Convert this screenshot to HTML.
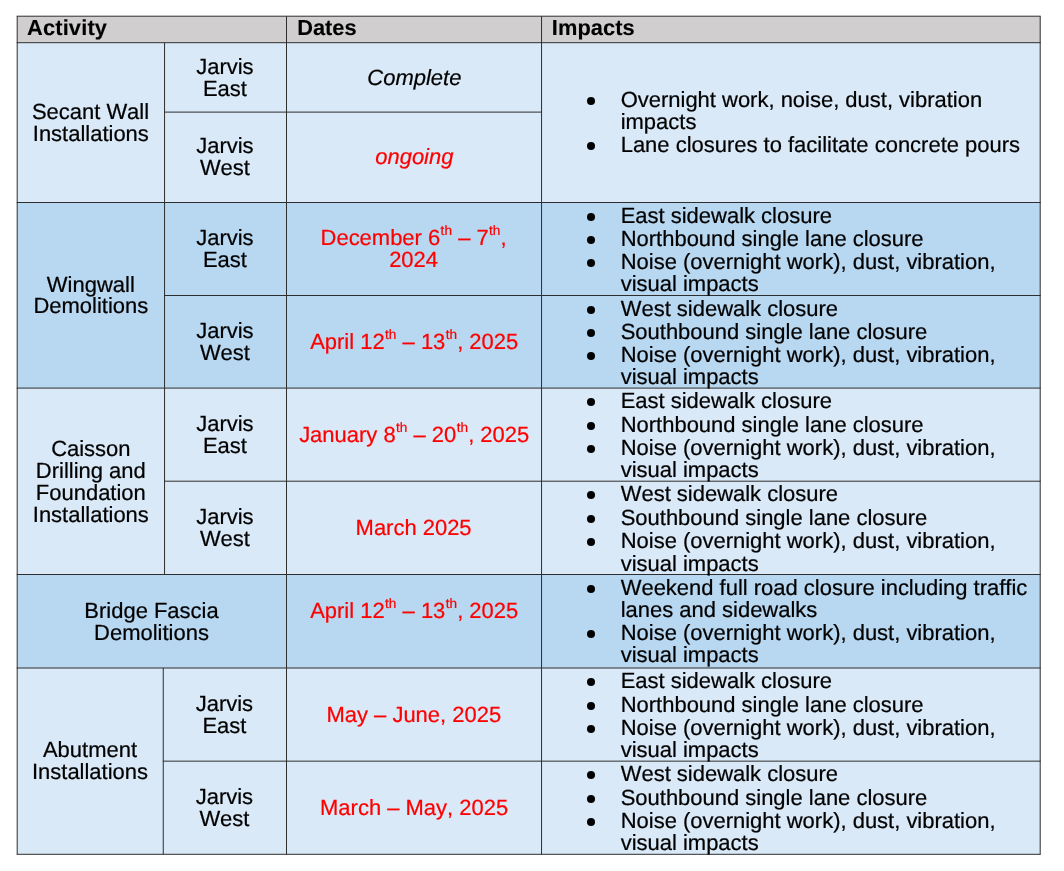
<!DOCTYPE html>
<html lang="en"><head><meta charset="utf-8"><style>
html,body{margin:0;padding:0;background:#fff}
body{width:1064px;height:871px;position:relative;overflow:hidden;font-family:"Liberation Sans",Arial,Helvetica,sans-serif;font-size:21.98px;color:#000;-webkit-text-stroke:0.22px currentColor;font-kerning:none;font-variant-ligatures:none;text-rendering:geometricPrecision}
svg.grid{position:absolute;left:0;top:0;display:block}
main{position:absolute;left:0;top:0;width:1064px;height:871px}
ul{list-style:none;margin:0;padding:0}
li{margin:0;padding:0}
.l{position:absolute;display:block;white-space:nowrap;line-height:25px;height:25px;margin:0;padding:0}
.c{text-align:center}
.b{font-weight:bold;font-size:21.8px;-webkit-text-stroke:0.12px currentColor}
.it{font-style:italic}
.ls{letter-spacing:0.17px}
.ls2{letter-spacing:0.08px}
.red{color:#ff0000}
sup{font-size:13.6px;line-height:0;vertical-align:baseline;position:relative;top:-10px;margin:0 0.1px 0 0.4px}
</style></head>
<body>
<svg class="grid" width="1064" height="871" viewBox="0 0 1064 871">
<rect x="17.20" y="16.20" width="1023.00" height="26.50" fill="#d0cece"/>
<rect x="17.20" y="42.70" width="1023.00" height="159.80" fill="#dae9f7"/>
<rect x="17.20" y="202.50" width="1023.00" height="185.60" fill="#b8d7f0"/>
<rect x="17.20" y="388.10" width="1023.00" height="186.40" fill="#dae9f7"/>
<rect x="17.20" y="574.50" width="1023.00" height="93.50" fill="#b8d7f0"/>
<rect x="17.20" y="668.00" width="1023.00" height="186.30" fill="#dae9f7"/>
<path d="M16.70 16.20H1040.70M16.70 42.70H1040.70M16.70 202.50H1040.70M16.70 388.10H1040.70M16.70 574.50H1040.70M16.70 668.00H1040.70M16.70 854.30H1040.70M164.05 112.10H542.05M164.05 295.50H1040.70M164.05 481.20H1040.70M162.75 761.15H1040.70M17.20 16.20V854.30M1040.20 16.20V854.30M286.50 16.20V854.30M541.55 16.20V854.30M164.55 42.70V574.50M163.25 668.00V854.30" stroke="#2e2e2e" stroke-width="1" fill="none"/>
<g fill="#000"><circle cx="591.00" cy="100.90" r="4.0"/><circle cx="591.00" cy="145.90" r="4.0"/><circle cx="591.00" cy="216.90" r="4.0"/><circle cx="591.00" cy="239.90" r="4.0"/><circle cx="591.00" cy="262.90" r="4.0"/><circle cx="591.00" cy="309.90" r="4.0"/><circle cx="591.00" cy="332.90" r="4.0"/><circle cx="591.00" cy="355.90" r="4.0"/><circle cx="591.00" cy="401.90" r="4.0"/><circle cx="591.00" cy="425.90" r="4.0"/><circle cx="591.00" cy="448.90" r="4.0"/><circle cx="591.00" cy="494.90" r="4.0"/><circle cx="591.00" cy="518.90" r="4.0"/><circle cx="591.00" cy="541.90" r="4.0"/><circle cx="591.00" cy="588.90" r="4.0"/><circle cx="591.00" cy="633.90" r="4.0"/><circle cx="591.00" cy="681.90" r="4.0"/><circle cx="591.00" cy="705.90" r="4.0"/><circle cx="591.00" cy="728.90" r="4.0"/><circle cx="591.00" cy="774.90" r="4.0"/><circle cx="591.00" cy="798.90" r="4.0"/><circle cx="591.00" cy="821.90" r="4.0"/></g>
</svg>
<main>
<header><div class="l b ls" style="left:27.00px;top:15px">Activity</div><div class="l b" style="left:297.20px;top:15px">Dates</div><div class="l b ls2" style="left:551.80px;top:15px">Impacts</div></header>
<section>
<div class="l c" style="left:-159.50px;width:500px;top:99px">Secant Wall</div><div class="l c" style="left:-159.20px;width:500px;top:121px">Installations</div>
<div class="l c" style="left:-25.10px;width:500px;top:54px">Jarvis</div><div class="l c" style="left:-25.10px;width:500px;top:76px">East</div>
<div class="l c" style="left:-25.10px;width:500px;top:133px">Jarvis</div><div class="l c" style="left:-25.10px;width:500px;top:155px">West</div>
<div class="l c it" style="left:164.35px;width:500px;top:65px">Complete</div>
<div class="l c it red" style="left:164.35px;width:500px;top:144px">ongoing</div>
<ul><li><span class="l" style="left:620.70px;top:87px">Overnight work, noise, dust, vibration</span> <span class="l" style="left:620.70px;top:109px">impacts</span> </li><li><span class="l" style="left:620.70px;top:132px">Lane closures to facilitate concrete pours</span> </li></ul>
</section>
<section>
<div class="l c" style="left:-159.20px;width:500px;top:272px">Wingwall</div><div class="l c" style="left:-159.20px;width:500px;top:293px">Demolitions</div>
<div class="l c" style="left:-25.10px;width:500px;top:225px">Jarvis</div><div class="l c" style="left:-25.10px;width:500px;top:247px">East</div>
<div class="l c" style="left:-25.10px;width:500px;top:318px">Jarvis</div><div class="l c" style="left:-25.10px;width:500px;top:340px">West</div>
<div class="l c red" style="left:163.60px;width:500px;top:225px">December 6<sup>th</sup> – 7<sup>th</sup>,</div><div class="l c red" style="left:163.60px;width:500px;top:247px">2024</div>
<div class="l c red" style="left:164.20px;width:500px;top:329px">April 12<sup>th</sup> – 13<sup>th</sup>, 2025</div>
<ul><li><span class="l" style="left:620.70px;top:203px">East sidewalk closure</span> </li><li><span class="l" style="left:620.70px;top:226px">Northbound single lane closure</span> </li><li><span class="l" style="left:620.70px;top:249px">Noise (overnight work), dust, vibration,</span> <span class="l" style="left:620.70px;top:271px">visual impacts</span> </li></ul>
<ul><li><span class="l" style="left:620.70px;top:296px">West sidewalk closure</span> </li><li><span class="l" style="left:620.70px;top:319px">Southbound single lane closure</span> </li><li><span class="l" style="left:620.70px;top:342px">Noise (overnight work), dust, vibration,</span> <span class="l" style="left:620.70px;top:364px">visual impacts</span> </li></ul>
</section>
<section>
<div class="l c" style="left:-159.20px;width:500px;top:436px">Caisson</div><div class="l c" style="left:-159.20px;width:500px;top:458px">Drilling and</div><div class="l c" style="left:-159.20px;width:500px;top:480px">Foundation</div><div class="l c" style="left:-159.20px;width:500px;top:502px">Installations</div>
<div class="l c" style="left:-25.10px;width:500px;top:411px">Jarvis</div><div class="l c" style="left:-25.10px;width:500px;top:433px">East</div>
<div class="l c" style="left:-25.10px;width:500px;top:504px">Jarvis</div><div class="l c" style="left:-25.10px;width:500px;top:526px">West</div>
<div class="l c red" style="left:164.20px;width:500px;top:422px">January 8<sup>th</sup> – 20<sup>th</sup>, 2025</div>
<div class="l c red" style="left:163.60px;width:500px;top:515px">March 2025</div>
<ul><li><span class="l" style="left:620.70px;top:388px">East sidewalk closure</span> </li><li><span class="l" style="left:620.70px;top:412px">Northbound single lane closure</span> </li><li><span class="l" style="left:620.70px;top:435px">Noise (overnight work), dust, vibration,</span> <span class="l" style="left:620.70px;top:457px">visual impacts</span> </li></ul>
<ul><li><span class="l" style="left:620.70px;top:481px">West sidewalk closure</span> </li><li><span class="l" style="left:620.70px;top:505px">Southbound single lane closure</span> </li><li><span class="l" style="left:620.70px;top:528px">Noise (overnight work), dust, vibration,</span> <span class="l" style="left:620.70px;top:551px">visual impacts</span> </li></ul>
</section>
<section>
<div class="l c" style="left:-98.50px;width:500px;top:598px">Bridge Fascia</div><div class="l c" style="left:-98.50px;width:500px;top:620px">Demolitions</div>
<div class="l c red" style="left:164.20px;width:500px;top:598px">April 12<sup>th</sup> – 13<sup>th</sup>, 2025</div>
<ul><li><span class="l" style="left:620.70px;top:575px">Weekend full road closure including traffic</span> <span class="l" style="left:620.70px;top:597px">lanes and sidewalks</span> </li><li><span class="l" style="left:620.70px;top:620px">Noise (overnight work), dust, vibration,</span> <span class="l" style="left:620.70px;top:642px">visual impacts</span> </li></ul>
</section>
<section>
<div class="l c" style="left:-160.00px;width:500px;top:737px">Abutment</div><div class="l c" style="left:-160.00px;width:500px;top:759px">Installations</div>
<div class="l c" style="left:-25.60px;width:500px;top:691px">Jarvis</div><div class="l c" style="left:-25.60px;width:500px;top:713px">East</div>
<div class="l c" style="left:-25.60px;width:500px;top:784px">Jarvis</div><div class="l c" style="left:-25.60px;width:500px;top:806px">West</div>
<div class="l c red" style="left:163.80px;width:500px;top:702px">May – June, 2025</div>
<div class="l c red" style="left:164.10px;width:500px;top:795px">March – May, 2025</div>
<ul><li><span class="l" style="left:620.70px;top:668px">East sidewalk closure</span> </li><li><span class="l" style="left:620.70px;top:692px">Northbound single lane closure</span> </li><li><span class="l" style="left:620.70px;top:715px">Noise (overnight work), dust, vibration,</span> <span class="l" style="left:620.70px;top:737px">visual impacts</span> </li></ul>
<ul><li><span class="l" style="left:620.70px;top:761px">West sidewalk closure</span> </li><li><span class="l" style="left:620.70px;top:785px">Southbound single lane closure</span> </li><li><span class="l" style="left:620.70px;top:808px">Noise (overnight work), dust, vibration,</span> <span class="l" style="left:620.70px;top:830px">visual impacts</span> </li></ul>
</section>
</main>
</body></html>
